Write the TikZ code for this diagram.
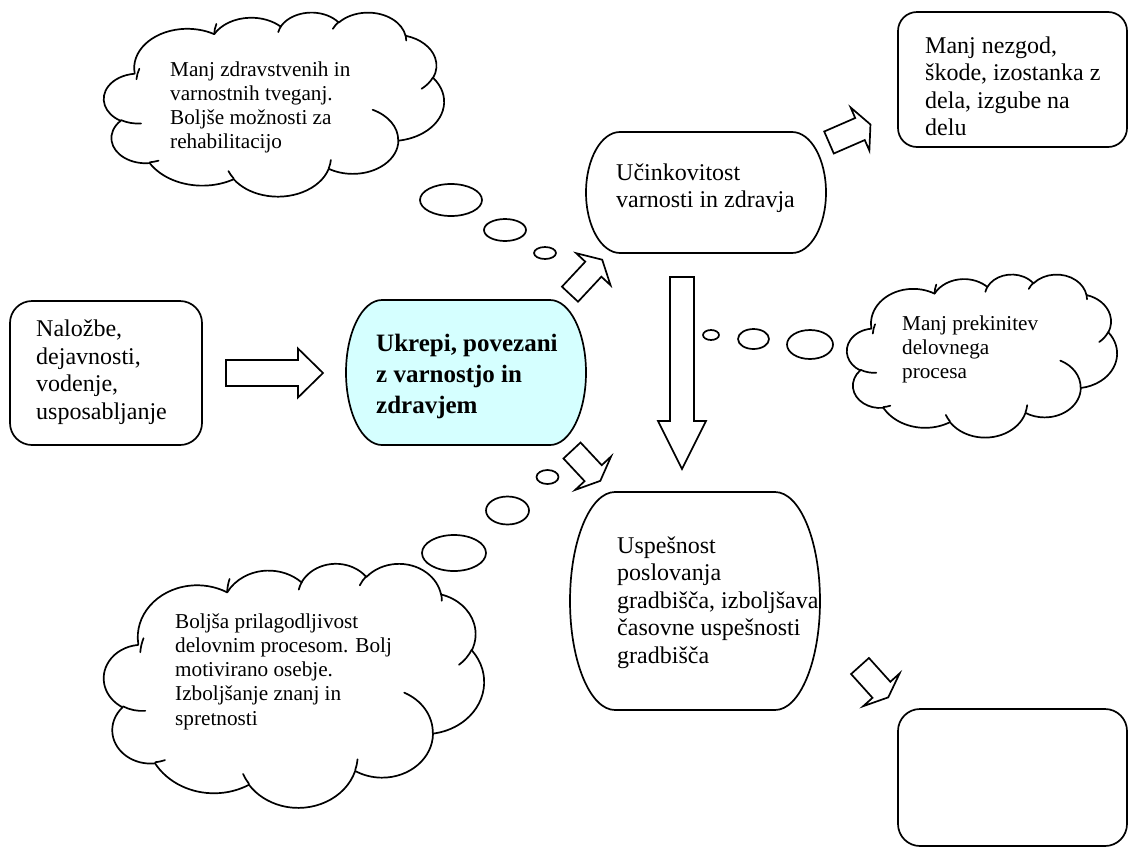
\documentclass[tikz,border=0pt]{standalone}
\usepackage{fontspec}
\setmainfont{Liberation Serif}
\usetikzlibrary{shapes.geometric}

% text sizes
\newcommand\boxfont{\fontsize{24}{27.5}\selectfont}
\newcommand\keyfont{\bfseries\fontsize{25}{31}\selectfont}
\newcommand\cloudfont{\fontsize{21.2}{24.3}\selectfont}

% one arc of a cloud outline: x radius, y radius, start angle, sweep
% (angles are visual angles, turned into parametric ones here)
\newcommand\carc[4]{arc[x radius=#1, y radius=#2,
  start angle={atan2((#1)*sin(#3),(#2)*cos(#3))},
  delta angle={(#4)+mod(atan2((#1)*sin((#3)+(#4)),(#2)*cos((#3)+(#4)))-atan2((#1)*sin(#3),(#2)*cos(#3))-(#4)+540,360)-180}]}

% cloud: name, left, top, width, height (outline on a 432 x 432 grid)
\newcommand\cloudshape[5]{%
  \pgfmathsetmacro\cloudsx{#4/432}%
  \pgfmathsetmacro\cloudsy{#5/432}%
  \begin{scope}[shift={(#2,#3)}, x=\cloudsx pt, y=-\cloudsy pt]
    \coordinate (#1) at (216,216);
    \draw[outline, fill=white, line join=round]
      (39.00,143.70)
      \carc{67.53}{91.90}{-190.487}{123.781}
      \carc{53.33}{72.67}{-144.102}{89.945}
      \carc{43.65}{59.45}{-145.808}{99.723}
      \carc{48.57}{65.95}{-130.986}{117.242}
      \carc{53.33}{72.73}{-78.709}{109.027}
      \carc{67.75}{92.20}{-46.267}{130.269}
      \carc{57.85}{78.67}{0.625}{114.033}
      \carc{67.52}{92.15}{22.452}{115.173}
      \carc{77.20}{105.43}{66.243}{75.711}
      \carc{43.60}{59.18}{-274.942}{146.736}
      \carc{43.45}{59.45}{-246.829}{152.519}
      -- cycle;
    \draw[outline, line cap=round]
      (46.93,261.77) \carc{43.45}{59.45}{86.742}{26.430}
      (69.28,348.99) \carc{43.60}{59.18}{73.610}{11.447}
      (164.78,390.90) \carc{67.52}{92.15}{137.624}{14.081}
      (288.27,347.51) \carc{67.52}{92.15}{6.453}{15.998}
      (341.29,229.54) \carc{57.85}{78.67}{-70.292}{70.917}
      (417.98,153.54) \carc{53.33}{72.73}{30.318}{27.752}
      (383.24,54.26) \carc{48.57}{65.95}{-13.744}{14.859}
      (290.78,39.52) \carc{48.57}{65.95}{-149.181}{18.195}
      (221.41,47.20) \carc{43.65}{59.45}{-163.494}{17.686}
      (140.00,51.92) \carc{67.53}{91.90}{-177.872}{20.025}
      (41.27,157.89) \carc{67.53}{91.90}{-175.171}{20.691};
  \end{scope}}

% terminator shape with elliptic ends: name, x1, y1, x2, y2, end radius, fill
\newcommand\termshape[7]{%
  \coordinate (#1) at ({(#2+#4)/2},{(#3+#5)/2});
  \draw[outline, fill=#7]
    ({#2+#6},#3) -- ({#4-#6},#3)
    arc[start angle=-90, end angle=90, x radius=#6, y radius={(#5-#3)/2}]
    -- ({#2+#6},#5)
    arc[start angle=90, end angle=270, x radius=#6, y radius={(#5-#3)/2}]
    -- cycle;}

% block arrow: tail x, tail y, angle, shaft length, head length, shaft width, head width
\newcommand\blockarrow[7]{%
  \draw[outline, fill=white, line join=miter, shift={(#1,#2)}, rotate=#3]
    (0,-#6/2) -- (#4,-#6/2) -- (#4,-#7/2) -- (#4+#5,0)
    -- (#4,#7/2) -- (#4,#6/2) -- (0,#6/2) -- cycle;}

\definecolor{keyfill}{HTML}{D5FFFF}

\tikzset{
  outline/.style={draw=black, line width=1.7pt},
  boxnode/.style={outline, rounded corners=#1, fill=white, inner sep=0pt},
  bubble/.style={outline, ellipse, fill=white, inner sep=0pt},
  txt/.style={anchor=base west, inner sep=0pt, align=left},
}

\begin{document}
\begin{tikzpicture}[x=1pt, y=-1pt]
  \path[use as bounding box, fill=white] (0,0) rectangle (1129,849);

  % inputs
  \node[boxnode=22pt, minimum width=192pt, minimum height=144pt] (invest) at (106,373) {};
  \node[txt, font=\boxfont] (invest-text) at (36,336.7)
    {\begin{tabular}[t]{@{}l@{}}Naložbe,\\dejavnosti,\\vodenje,\\usposabljanje\end{tabular}};

  % central measures
  \termshape{measures}{346}{300}{586}{445}{36}{keyfill}
  \node[txt, font=\keyfont] (measures-text) at (376,351)
    {\begin{tabular}[t]{@{}l@{}}Ukrepi, povezani\\z varnostjo in\\zdravjem\end{tabular}};

  % effectiveness
  \termshape{effect}{586}{132}{826}{253}{34}{white}
  \node[txt, font=\boxfont] (effect-text) at (616,180)
    {\begin{tabular}[t]{@{}l@{}}Učinkovitost\\varnosti in zdravja\end{tabular}};

  % fewer accidents
  \node[boxnode=19pt, minimum width=229pt, minimum height=135pt] (loss) at (1012.5,79.5) {};
  \node[txt, font=\boxfont] (loss-text) at (925,53)
    {\begin{tabular}[t]{@{}l@{}}Manj nezgod,\\škode, izostanka z\\dela, izgube na\\delu\end{tabular}};

  % site performance
  \termshape{perform}{570}{492}{820}{710}{45}{white}
  \node[txt, font=\boxfont] (perform-text) at (617,553)
    {\begin{tabular}[t]{@{}l@{}}Uspešnost\\poslovanja\\gradbišča, izboljšava\\časovne uspešnosti\\gradbišča\end{tabular}};

  % empty result box
  \node[boxnode=22pt, minimum width=229pt, minimum height=137pt] (result) at (1012.5,777.5) {};

  % block arrows
  \blockarrow{226}{373}{0}{72}{25}{26}{49}
  \blockarrow{570}{294.2}{47}{34.2}{13}{22}{47}
  \blockarrow{829}{142.5}{23.5}{33.8}{11.4}{24}{47}
  \blockarrow{682}{277}{-90}{144}{48}{24}{48}
  \blockarrow{572}{450.5}{-47}{31}{10.5}{23.4}{49}
  \blockarrow{860}{666}{-48}{32}{10.2}{24}{49}

  % clouds
  \cloudshape{risk}{104}{12}{340}{184}
  \node[txt, font=\cloudfont] (risk-text) at (170,76)
    {\begin{tabular}[t]{@{}l@{}}Manj zdravstvenih in\\varnostnih tveganj.\\Boljše možnosti za\\rehabilitacijo\end{tabular}};

  \cloudshape{flow}{847}{274}{270}{163}
  \node[txt, font=\cloudfont] (flow-text) at (902,330)
    {\begin{tabular}[t]{@{}l@{}}Manj prekinitev\\delovnega\\procesa\end{tabular}};

  \cloudshape{staff}{104}{563}{380}{244}
  \node[txt, font=\cloudfont] (staff-text) at (175,628)
    {\begin{tabular}[t]{@{}l@{}}Boljša prilagodljivost\\delovnim procesom. Bolj\\motivirano osebje.\\Izboljšanje znanj in\\spretnosti\end{tabular}};

  % thought bubbles
  \node[bubble, minimum width=62pt, minimum height=32pt] (risk-b1) at (451,200) {};
  \node[bubble, minimum width=42pt, minimum height=22pt] (risk-b2) at (505,230) {};
  \node[bubble, minimum width=22pt, minimum height=12pt] (risk-b3) at (545,253) {};

  \node[bubble, minimum width=16pt, minimum height=10pt] (flow-b1) at (711,335) {};
  \node[bubble, minimum width=31pt, minimum height=20pt] (flow-b2) at (753.5,339) {};
  \node[bubble, minimum width=46pt, minimum height=29pt] (flow-b3) at (810,344.5) {};

  \node[bubble, minimum width=22pt, minimum height=14pt] (staff-b1) at (547.5,477) {};
  \node[bubble, minimum width=43pt, minimum height=28pt] (staff-b2) at (507.5,510.5) {};
  \node[bubble, minimum width=64pt, minimum height=36pt] (staff-b3) at (454,553) {};
\end{tikzpicture}
\end{document}
